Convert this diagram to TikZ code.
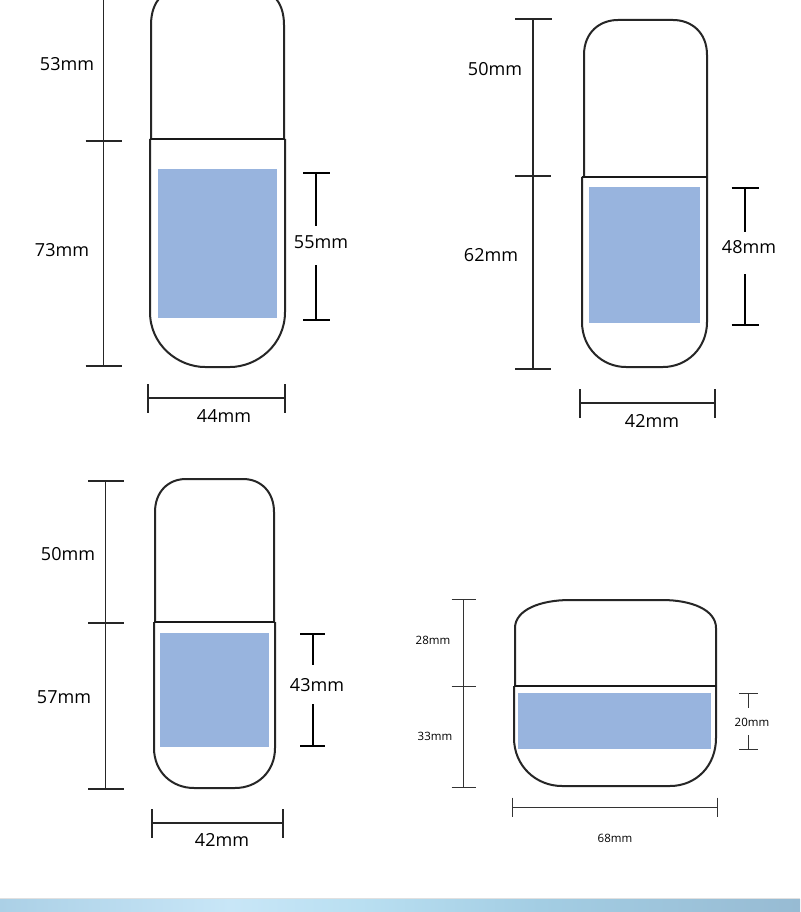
\documentclass[tikz,border=0pt]{standalone}
\usepackage{fontspec}
\setmainfont{Open Sans}
\usetikzlibrary{calc, positioning}

\definecolor{labelblue}{HTML}{98B4DE}
\tikzset{
	shell/.style={draw=black!85, line width=2pt, fill=white},
	seam/.style={draw=black!90, line width=2.6pt},
	printarea/.style={fill=labelblue, draw=none},
	dimline/.style={draw=black!85, line width=1.4pt},
	dimprint/.style={draw=black, line width=1.8pt},
	dimthin/.style={draw=black!80, line width=0.9pt},
	biglabel/.style={font=\fontsize{18}{20}\selectfont, inner sep=0pt},
	smalllabel/.style={font=\fontsize{11.5}{13}\selectfont, inner sep=0pt},
}

\begin{document}
\begin{tikzpicture}[x=1pt, y=-1pt]
	
	% Page
	\clip (0,0) rectangle (800,912);
	\fill[white] (0,0) rectangle (800,912);
	
	% --- BOTTLE A ---
	\draw[shell] (151,139) -- (151,25) .. controls (151,0) and (165,-12) .. (185,-12) -- (250,-12) .. controls (270,-12) and (284,0) .. (284,25) -- (284,139);
	\draw[shell] (150,139) -- (150,312) .. controls (150,345) and (178,367) .. (205,367) -- (230,367) .. controls (257,367) and (285,345) .. (285,312) -- (285,139);
	\draw[seam] (150,139) -- (285,139);
	\fill[printarea] (158,169) rectangle (277,318);
	
	% Height
	\coordinate (A0) at (103.5,0);
	\coordinate (A1) at (103.5,141);
	\coordinate (A2) at (103.5,366);
	\draw[dimline] (A0) -- (A2);
	\draw[dimline] ($(A1)+(-18,0)$) -- ($(A1)+(18,0)$);
	\draw[dimline] ($(A2)+(-18,0)$) -- ($(A2)+(18,0)$);
	\node[biglabel] (A53) at (67,64) {53mm};
	\node[biglabel] (A73) at (62,250) {73mm};
	
	% Print height
	\coordinate (AP0) at (316,173);
	\coordinate (AP1) at (316,320);
	\node[biglabel] (A55) at (321,242) {55mm};
	\draw[dimprint] (AP0) -- (316,226);
	\draw[dimprint] (316,265) -- (AP1);
	\draw[dimprint] ($(AP0)+(-13,0)$) -- ($(AP0)+(14,0)$);
	\draw[dimprint] ($(AP1)+(-13,0)$) -- ($(AP1)+(14,0)$);
	
	% Width
	\coordinate (AW0) at (148,398);
	\coordinate (AW1) at (285,398);
	\draw[dimline] (AW0) -- (AW1);
	\draw[dimline] ($(AW0)+(0,-14)$) -- ($(AW0)+(0,15)$);
	\draw[dimline] ($(AW1)+(0,-14)$) -- ($(AW1)+(0,15)$);
	\node[biglabel] (A44) at (224,416) {44mm};
	
	% --- BOTTLE B ---
	\draw[shell] (584,177) -- (584,55) .. controls (584,32) and (600,20) .. (618,20) -- (673,20) .. controls (691,20) and (707,32) .. (707,55) -- (707,177);
	\draw[shell] (582,177) -- (582,322) .. controls (582,348) and (602,367) .. (626,367) -- (663,367) .. controls (687,367) and (707,348) .. (707,322) -- (707,177);
	\draw[seam] (582,177) -- (707,177);
	\fill[printarea] (589,187) rectangle (700,323);
	
	% Height
	\coordinate (B0) at (533,19);
	\coordinate (B1) at (533,176);
	\coordinate (B2) at (533,369);
	\draw[dimline] (B0) -- (B2);
	\draw[dimline] ($(B0)+(-18,0)$) -- ($(B0)+(19,0)$);
	\draw[dimline] ($(B1)+(-18,0)$) -- ($(B1)+(18,0)$);
	\draw[dimline] ($(B2)+(-18,0)$) -- ($(B2)+(18,0)$);
	\node[biglabel] (B50) at (495,69) {50mm};
	\node[biglabel] (B62) at (491,255) {62mm};
	
	% Print height
	\coordinate (BP0) at (745,188);
	\coordinate (BP1) at (745,325);
	\node[biglabel] (B48) at (749,247) {48mm};
	\draw[dimprint] (BP0) -- (745,232);
	\draw[dimprint] (745,274) -- (BP1);
	\draw[dimprint] ($(BP0)+(-13.5,0)$) -- ($(BP0)+(13.5,0)$);
	\draw[dimprint] ($(BP1)+(-13.5,0)$) -- ($(BP1)+(13.5,0)$);
	
	% Width
	\coordinate (BW0) at (580,403);
	\coordinate (BW1) at (715,403);
	\draw[dimline] (BW0) -- (BW1);
	\draw[dimline] ($(BW0)+(0,-14)$) -- ($(BW0)+(0,15)$);
	\draw[dimline] ($(BW1)+(0,-14)$) -- ($(BW1)+(0,15)$);
	\node[biglabel] (B42) at (652,421) {42mm};
	
	% --- BOTTLE C ---
	\draw[shell] (155,622) -- (155,512) .. controls (155,492) and (168,479) .. (186,479) -- (243,479) .. controls (261,479) and (274,492) .. (274,512) -- (274,622);
	\draw[shell] (154,622) -- (154,748) .. controls (154,772) and (172,788) .. (194,788) -- (235,788) .. controls (257,788) and (275,772) .. (275,748) -- (275,622);
	\draw[seam] (154,622) -- (275,622);
	\fill[printarea] (160,633) rectangle (269,747);
	
	% Height
	\coordinate (C0) at (105.5,481);
	\coordinate (C1) at (105.5,623);
	\coordinate (C2) at (105.5,789);
	\draw[dimline] (C0) -- (C2);
	\draw[dimline] ($(C0)+(-17.5,0)$) -- ($(C0)+(18.5,0)$);
	\draw[dimline] ($(C1)+(-17.5,0)$) -- ($(C1)+(18.5,0)$);
	\draw[dimline] ($(C2)+(-17.5,0)$) -- ($(C2)+(18.5,0)$);
	\node[biglabel] (C50) at (68,554) {50mm};
	\node[biglabel] (C57) at (64,697) {57mm};
	
	% Print height
	\coordinate (CP0) at (313,634);
	\coordinate (CP1) at (313,746);
	\node[biglabel] (C43) at (317,685) {43mm};
	\draw[dimprint] (CP0) -- (313,665);
	\draw[dimprint] (313,704) -- (CP1);
	\draw[dimprint] ($(CP0)+(-13,0)$) -- ($(CP0)+(12,0)$);
	\draw[dimprint] ($(CP1)+(-13,0)$) -- ($(CP1)+(12,0)$);
	
	% Width
	\coordinate (CW0) at (152,823);
	\coordinate (CW1) at (283,823);
	\draw[dimline] (CW0) -- (CW1);
	\draw[dimline] ($(CW0)+(0,-14)$) -- ($(CW0)+(0,15)$);
	\draw[dimline] ($(CW1)+(0,-14)$) -- ($(CW1)+(0,15)$);
	\node[biglabel] (C42) at (222,840) {42mm};
	
	% --- JAR D ---
	\draw[shell] (515,686) -- (515,628) .. controls (515,610) and (540,600) .. (570,600) -- (662,600) .. controls (692,600) and (716,610) .. (716,628) -- (716,686);
	\draw[shell] (514,686) -- (514,738) .. controls (514,766) and (536,786) .. (562,786) -- (670,786) .. controls (696,786) and (716,766) .. (716,738) -- (716,686);
	\draw[seam] (514,686) -- (716,686);
	\fill[printarea] (518,693) rectangle (711,749);
	
	% Height
	\coordinate (D0) at (463.5,599);
	\coordinate (D1) at (463.5,686);
	\coordinate (D2) at (463.5,787);
	\draw[dimthin] (D0) -- (D2);
	\draw[dimthin] ($(D0)+(-12,0)$) -- ($(D0)+(12,0)$);
	\draw[dimthin] ($(D1)+(-12,0)$) -- ($(D1)+(12,0)$);
	\draw[dimthin] ($(D2)+(-12,0)$) -- ($(D2)+(12,0)$);
	\node[smalllabel] (D28) at (433,640) {28mm};
	\node[smalllabel] (D33) at (435,736) {33mm};
	
	% Print height
	\coordinate (DP0) at (748.5,693.5);
	\coordinate (DP1) at (748.5,749.5);
	\node[smalllabel] (D20) at (752,722) {20mm};
	\draw[dimthin] (DP0) -- (748.5,707.5);
	\draw[dimthin] (748.5,735) -- (DP1);
	\draw[dimthin] ($(DP0)+(-9.5,0)$) -- ($(DP0)+(9.5,0)$);
	\draw[dimthin] ($(DP1)+(-9.5,0)$) -- ($(DP1)+(9.5,0)$);
	
	% Width
	\coordinate (DW0) at (512,807);
	\coordinate (DW1) at (717,807);
	\draw[dimthin] (DW0) -- (DW1);
	\draw[dimthin] ($(DW0)+(0,-9.5)$) -- ($(DW0)+(0,9.5)$);
	\draw[dimthin] ($(DW1)+(0,-9.5)$) -- ($(DW1)+(0,9.5)$);
	\node[smalllabel] (D68) at (615,838) {68mm};
	
	% --- BOTTOM BAND ---
	\definecolor{bandA}{HTML}{ABD0E6}
	\definecolor{bandB}{HTML}{C8E6F7}
	\definecolor{bandC}{HTML}{B9DFF1}
	\definecolor{bandD}{HTML}{A3CDE3}
	\definecolor{bandE}{HTML}{97BBD3}
	\foreach \xa/\xb/\ca/\cb in {0/230/bandA/bandB, 230/360/bandB/bandC, 360/540/bandC/bandD, 540/800/bandD/bandE}
		\shade[left color=\ca, right color=\cb] (\xa,899) rectangle (\xb,912);
	\fill[black!12] (0,898) rectangle (800,899);
	
\end{tikzpicture}
\end{document}
